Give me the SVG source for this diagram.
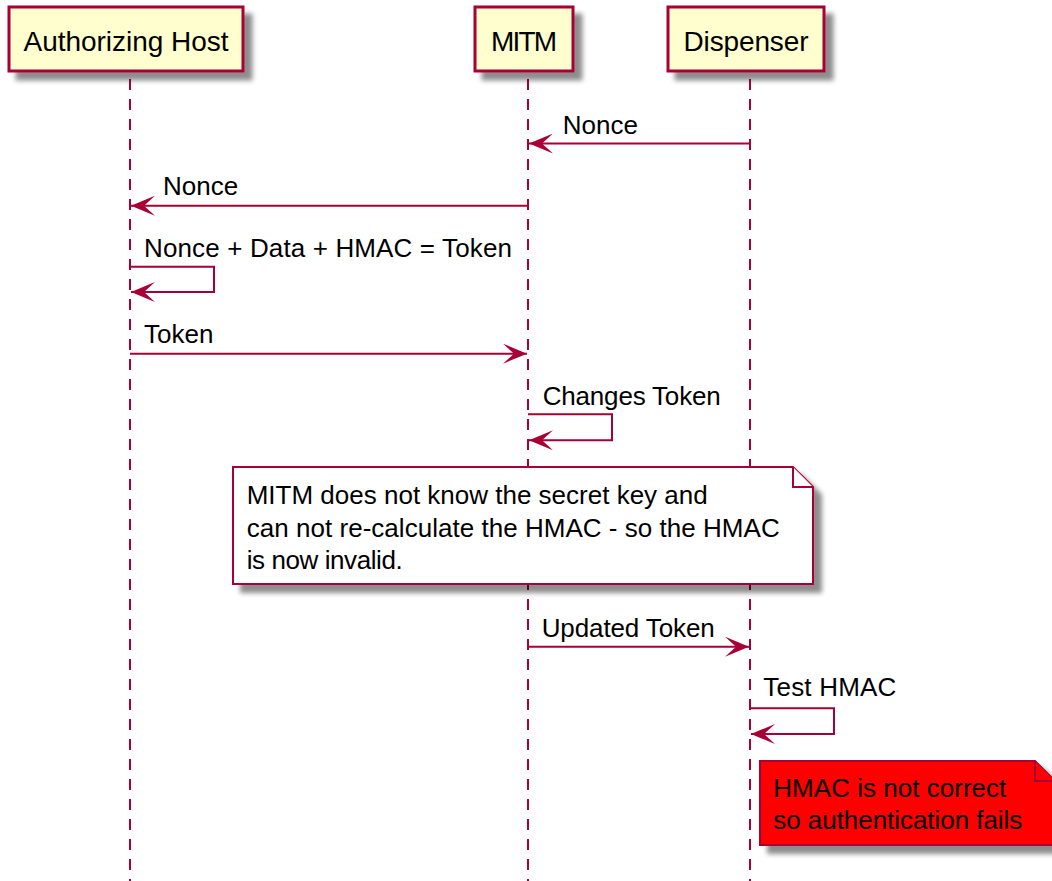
<svg xmlns="http://www.w3.org/2000/svg" width="1052" height="881" viewBox="0 0 1052 881">
<defs>
<filter id="sh" x="-10%" y="-10%" width="130%" height="140%">
<feGaussianBlur in="SourceAlpha" stdDeviation="2.5"/>
<feOffset dx="8" dy="8" result="b"/>
<feComponentTransfer><feFuncA type="linear" slope="0.45"/></feComponentTransfer>
<feMerge><feMergeNode/><feMergeNode in="SourceGraphic"/></feMerge>
</filter>
<marker id="ah" viewBox="0 0 24 20" refX="24" refY="10" markerWidth="24" markerHeight="20" markerUnits="userSpaceOnUse" orient="auto">
<polygon points="0,0 24,10 0,20 11,10" fill="#A80036"/>
</marker>
</defs>
<style>
.t{font-family:"Liberation Sans",Arial,sans-serif;font-size:26px;fill:#000}
.p{font-family:"Liberation Sans",Arial,sans-serif;font-size:28px;fill:#000;text-anchor:middle}
.life{stroke:#A80036;stroke-width:2;stroke-dasharray:11,9;fill:none}
.box{fill:#FEFECE;stroke:#A80036;stroke-width:3}
.msg{stroke:#A80036;stroke-width:2;fill:none;marker-end:url(#ah)}
.note{fill:#FFFFFF;stroke:#A80036;stroke-width:2}
.rnote{fill:#FF0000;stroke:#A80036;stroke-width:2}
</style>
<rect width="1052" height="881" fill="#FFFFFF"/>
<g id="lifelines">
<line class="life" x1="130" y1="79" x2="130" y2="881"/>
<line class="life" x1="528" y1="79" x2="528" y2="881"/>
<line class="life" x1="750" y1="79" x2="750" y2="881"/>
</g>
<g id="p-host">
<rect class="box" x="9" y="7" width="234" height="64" filter="url(#sh)"/>
<text class="p" x="126" y="51" textLength="205">Authorizing Host</text>
</g>
<g id="p-mitm">
<rect class="box" x="475" y="7" width="98" height="64" filter="url(#sh)"/>
<text class="p" x="524" y="51" textLength="66">MITM</text>
</g>
<g id="p-disp">
<rect class="box" x="668" y="7" width="156" height="64" filter="url(#sh)"/>
<text class="p" x="746" y="51" textLength="125">Dispenser</text>
</g>
<g id="connectors">
<line class="msg" x1="750" y1="143.5" x2="529" y2="143.5"/>
<text class="t" x="562.7" y="134.3">Nonce</text>
<line class="msg" x1="528" y1="205.7" x2="131" y2="205.7"/>
<text class="t" x="163" y="195">Nonce</text>
<polyline class="msg" points="130,266.7 214,266.7 214,292 131,292"/>
<text class="t" x="144" y="256.7" textLength="368">Nonce + Data + HMAC = Token</text>
<line class="msg" x1="130" y1="353.7" x2="527" y2="353.7"/>
<text class="t" x="144" y="342.7">Token</text>
<polyline class="msg" points="528,414.3 612,414.3 612,440.3 529,440.3"/>
<text class="t" x="542.7" y="405" textLength="178">Changes Token</text>
<line class="msg" x1="528" y1="646.7" x2="749" y2="646.7"/>
<text class="t" x="541.7" y="636.7" textLength="173">Updated Token</text>
<polyline class="msg" points="750,708.3 834,708.3 834,734 751,734"/>
<text class="t" x="763.3" y="696" textLength="133">Test HMAC</text>
</g>
<g id="note-mitm">
<path class="note" d="M233,467 L793,467 L813,487 L813,584 L233,584 Z" filter="url(#sh)"/>
<path class="note" d="M793,467 L793,487 L813,487" fill="none"/>
<text class="t" x="246.7" y="504" textLength="461">MITM does not know the secret key and</text>
<text class="t" x="246.7" y="536.7" textLength="533">can not re-calculate the HMAC - so the HMAC</text>
<text class="t" x="246.7" y="569.3" textLength="156">is now invalid.</text>
</g>
<g id="note-fail">
<path class="rnote" d="M760,761 L1035,761 L1055,781 L1055,845 L760,845 Z" filter="url(#sh)"/>
<path class="rnote" d="M1035,761 L1035,781 L1055,781" fill="none"/>
<text class="t" x="773.3" y="796.7" textLength="233">HMAC is not correct</text>
<text class="t" x="773.3" y="829.3" textLength="249">so authentication fails</text>
</g>
</svg>
